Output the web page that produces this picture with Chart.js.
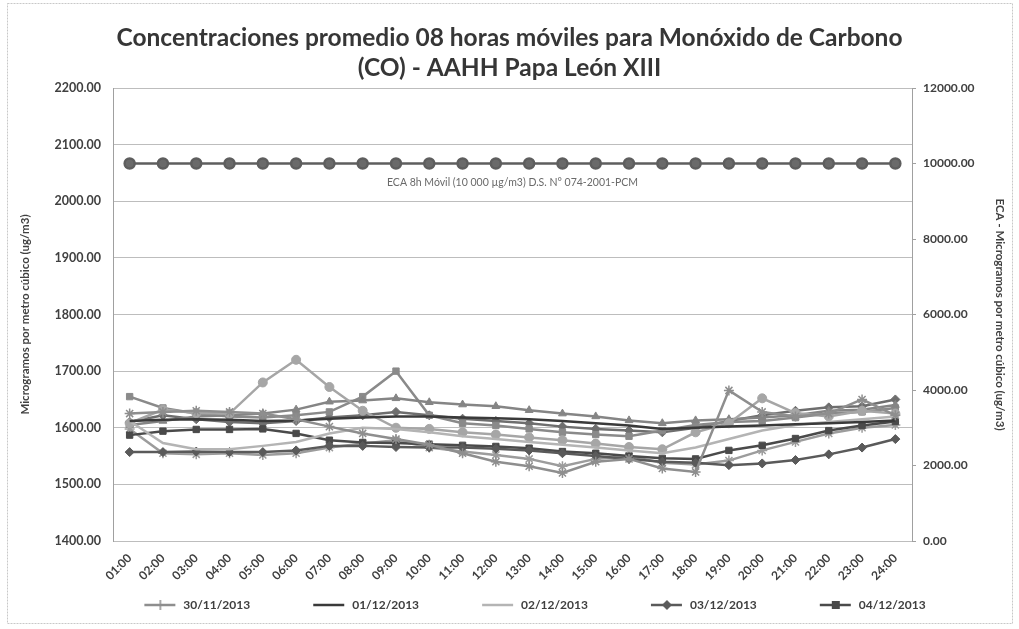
<!DOCTYPE html>
<html><head><meta charset="utf-8">
<script src="https://cdn.jsdelivr.net/npm/chart.js@4.4.0/dist/chart.umd.min.js"></script>
<style>html,body{margin:0;padding:0;background:#fff;}#wrap{width:1019px;height:629px;}</style>
</head><body><div id="wrap"><canvas id="c" width="1019" height="629"></canvas></div>
<script>
const hours = ['01:00','02:00','03:00','04:00','05:00','06:00','07:00','08:00','09:00','10:00','11:00','12:00','13:00','14:00','15:00','16:00','17:00','18:00','19:00','20:00','21:00','22:00','23:00','24:00'];
const legendNames = ['30/11/2013','01/12/2013','02/12/2013','03/12/2013','04/12/2013'];
const s3011 = [1625,1628,1630,1628,1625,1615,1602,1590,1580,1570,1555,1540,1532,1520,1540,1545,1528,1522,1666,1628,1620,1625,1650,1622];
const s0112 = [1612,1614,1615,1614,1612,1613,1616,1618,1620,1620,1618,1617,1615,1612,1608,1604,1598,1600,1602,1604,1606,1608,1610,1613];
const s0212 = [1612,1573,1562,1562,1568,1575,1590,1600,1598,1592,1585,1580,1575,1570,1565,1560,1555,1565,1580,1595,1605,1610,1615,1620];
const s0312 = [1557,1557,1558,1557,1557,1560,1568,1568,1566,1565,1565,1563,1560,1555,1550,1545,1540,1538,1534,1537,1543,1553,1565,1580];
const s0412 = [1587,1594,1597,1597,1598,1590,1578,1574,1573,1571,1569,1567,1564,1558,1555,1550,1546,1545,1560,1569,1581,1595,1604,1611];
const extraA = [1608,1632,1626,1625,1680,1720,1672,1630,1600,1598,1592,1588,1583,1578,1572,1566,1562,1592,1608,1652,1626,1620,1630,1625];
const extraB = [1605,1612,1620,1622,1625,1632,1646,1648,1652,1645,1641,1638,1631,1625,1620,1613,1608,1613,1615,1618,1622,1630,1632,1640];
const extraC = [1655,1635,1625,1620,1618,1622,1628,1655,1700,1622,1608,1604,1598,1592,1588,1585,1595,1605,1610,1612,1618,1625,1628,1635];
const extraD = [1598,1555,1553,1555,1552,1555,1565,1572,1578,1565,1558,1552,1545,1532,1545,1550,1538,1535,1542,1560,1575,1590,1600,1605];
const extraE = [1610,1622,1615,1610,1608,1612,1618,1622,1628,1622,1616,1612,1608,1602,1598,1595,1592,1600,1612,1622,1630,1636,1638,1650];
const ecaValues = [10000,10000,10000,10000,10000,10000,10000,10000,10000,10000,10000,10000,10000,10000,10000,10000,10000,10000,10000,10000,10000,10000,10000,10000];
const leftTicks = {min:1400, max:2200, step:100};
const rightTicks = {min:0, max:12000, step:2000};
const titleLines = ['Concentraciones promedio 08 horas móviles para Monóxido de Carbono','(CO) - AAHH Papa León XIII'];
const leftTitle = 'Microgramos por metro cúbico (ug/m3)';
const rightTitle = 'ECA - Microgramos por metro cúbico (ug/m3)';
const ecaLabel = 'ECA 8h Móvil (10 000 µg/m3) D.S. N° 074-2001-PCM';

const FONT = 'Lato, "Open Sans", sans-serif';
function ds(label, data, color, style, radius, width){
  return {label, data, borderColor:color, backgroundColor:color, pointBackgroundColor:color, pointBorderColor:color,
    pointStyle:style, pointRadius:radius, pointBorderWidth: style==='star'||style==='cross'?1.5:1, borderWidth:width||2.5, tension:0, yAxisID:'y'};
}
const datasets = [
  ds(legendNames[0], s3011, '#8e8e8e', 'star', 5),
  ds(legendNames[1], s0112, '#3a3a3a', 'circle', 0),
  ds(legendNames[2], s0212, '#b4b4b4', 'circle', 0),
  ds(legendNames[3], s0312, '#5a5a5a', 'rectRot', 4.5),
  ds(legendNames[4], s0412, '#4a4a4a', 'rect', 4.5),
  ds('a', extraA, '#a6a6a6', 'circle', 4.5),
  ds('b', extraB, '#858585', 'triangle', 4.5),
  ds('c', extraC, '#8a8a8a', 'rect', 4.5),
  ds('d', extraD, '#9c9c9c', 'star', 5),
  ds('e', extraE, '#6e6e6e', 'rectRot', 4.5),
  {label:'ECA', data:ecaValues, borderColor:'#5e5e5e', backgroundColor:'#6a6a6a', pointBackgroundColor:'#6a6a6a', pointBorderColor:'#5e5e5e',
   pointStyle:'circle', pointRadius:5, borderWidth:2.5, yAxisID:'y1'}
];

const LEG_W = 84;
function legendImage(d){
  const c = document.createElement('canvas');
  c.width = LEG_W; c.height = 14;
  const x = c.getContext('2d');
  x.strokeStyle = d.borderColor; x.lineWidth = 2.5;
  x.beginPath(); x.moveTo(LEG_W-33,7); x.lineTo(LEG_W-2,7); x.stroke();
  const cx = LEG_W-17, cy = 7;
  x.fillStyle = d.borderColor;
  if (d.pointRadius > 0) {
    if (d.pointStyle === 'star') {
      x.lineWidth = 1.5; x.beginPath();
      x.moveTo(cx, cy-5); x.lineTo(cx, cy+5); x.stroke();
    } else if (d.pointStyle === 'rectRot') {
      x.beginPath(); x.moveTo(cx, cy-5); x.lineTo(cx+5, cy); x.lineTo(cx, cy+5); x.lineTo(cx-5, cy); x.closePath(); x.fill();
    } else if (d.pointStyle === 'rect') {
      x.fillRect(cx-4, cy-4, 8, 8);
    }
  }
  return c;
}

const framePlugin = {
  id:'frame',
  beforeDraw(chart){
    const ctx = chart.ctx;
    ctx.save(); ctx.fillStyle='#fff'; ctx.fillRect(0,0,chart.width,chart.height);
    ctx.strokeStyle='#c8c8c8'; ctx.lineWidth=1; ctx.setLineDash([2,1]);
    ctx.strokeRect(7.5,3.5,1005,620); ctx.restore();
  },
  afterDatasetsDraw(chart){
    const ctx = chart.ctx, a = chart.chartArea;
    const y = chart.scales.y1.getPixelForValue(ecaValues[0]) + 19;
    ctx.save(); ctx.font = '10.5px ' + FONT; ctx.fillStyle = '#6a6a6a';
    ctx.textAlign='center'; ctx.textBaseline='middle';
    ctx.fillText(ecaLabel, (a.left + a.right)/2, y); ctx.restore();
  }
};

new Chart(document.getElementById('c'), {
  type:'line',
  data:{labels:hours, datasets},
  plugins:[framePlugin],
  options:{
    responsive:false, animation:false, devicePixelRatio:1,
    layout:{padding:{left:0,right:0,top:0,bottom:8}},
    plugins:{
      title:{display:true, text:titleLines, color:'#363636', font:{family:FONT, size:24.5, weight:'bold', lineHeight:1.225}, padding:{top:23,bottom:5}},
      legend:{position:'bottom', labels:{usePointStyle:true, pointStyleWidth:LEG_W, boxHeight:12, padding:12, color:'#404040',
        font:{family:FONT, size:12, weight:'bold'},
        filter:(item)=>item.datasetIndex<5,
        generateLabels:(chart)=>{
          const items = Chart.defaults.plugins.legend.labels.generateLabels(chart);
          items.forEach(it=>{ it.pointStyle = legendImage(chart.data.datasets[it.datasetIndex]); });
          return items;
        }}},
      tooltip:{enabled:false}
    },
    scales:{
      x:{offset:true, grid:{display:false, drawTicks:false}, border:{display:false},
        ticks:{minRotation:45, maxRotation:45, padding:10, color:'#404040', font:{family:FONT, size:12, weight:'bold'}},
        afterFit:(s)=>{s.height=46;}},
      y:{position:'left', min:leftTicks.min, max:leftTicks.max,
        ticks:{stepSize:leftTicks.step, padding:12, color:'#404040', font:{family:FONT, size:12.5, weight:'bold'}, callback:(v)=>Number(v).toFixed(2)},
        grid:{color:'#bdbdbd', drawTicks:false}, border:{color:'#a0a0a0'},
        title:{display:true, text:leftTitle, color:'#404040', font:{family:FONT, size:11.5, weight:'bold'}, padding:{top:18,bottom:0}},
        afterFit:(s)=>{s.width=113;}},
      y1:{position:'right', min:rightTicks.min, max:rightTicks.max,
        ticks:{stepSize:rightTicks.step, padding:7, color:'#404040', font:{family:FONT, size:12, weight:'bold'}, callback:(v)=>Number(v).toFixed(2)},
        grid:{drawOnChartArea:false, tickLength:4, color:'#a0a0a0'}, border:{color:'#a0a0a0'},
        title:{display:true, text:rightTitle, color:'#404040', font:{family:FONT, size:11.5, weight:'bold'}, padding:{top:12,bottom:0}},
        afterFit:(s)=>{s.width=107;}}
    }
  }
});
</script></body></html>
